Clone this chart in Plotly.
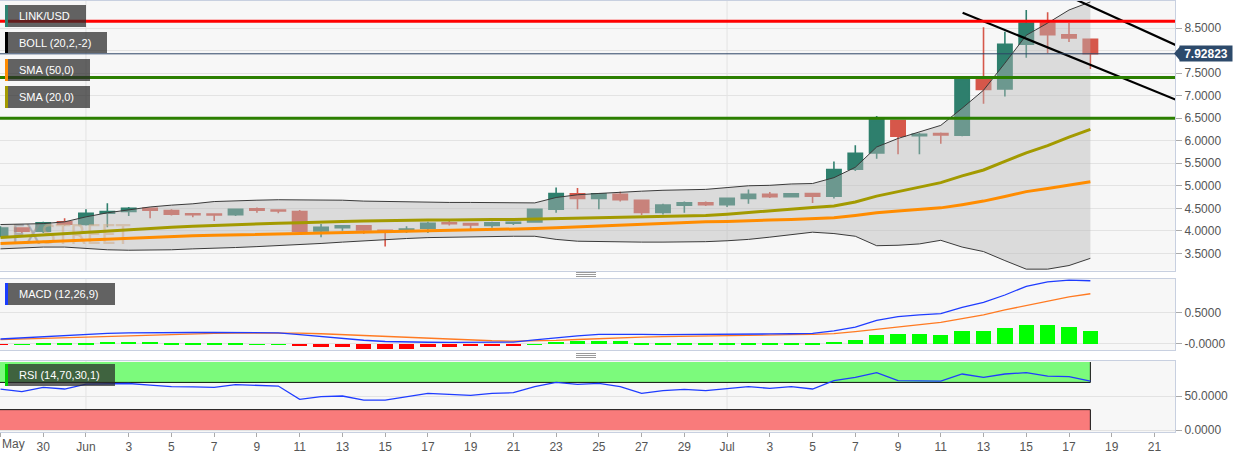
import pandas as pd
import plotly.graph_objects as go

# ---------------- data ----------------
start_date = "2019-05-28"
n_days = 52
dates = pd.date_range(start_date, periods=n_days, freq="D")

open_ = [3.90, 4.06, 3.99, 4.20, 4.14, 4.39, 4.43, 4.50, 4.45, 4.38, 4.37, 4.36, 4.49, 4.46, 4.43, 4.00,
         4.07, 4.11, 4.01, 3.99, 4.06, 4.18, 4.16, 4.12, 4.17, 4.20, 4.48, 4.82, 4.72, 4.81, 4.68, 4.41,
         4.57, 4.62, 4.58, 4.72, 4.81, 4.76, 4.83, 4.77, 5.37, 5.73, 6.45, 6.11, 6.16, 6.12, 7.38, 7.15,
         8.14, 8.61, 8.35, 8.25]
high = [4.10, 4.08, 4.20, 4.28, 4.48, 4.61, 4.53, 4.51, 4.48, 4.38, 4.38, 4.49, 4.52, 4.46, 4.46, 4.15,
        4.12, 4.11, 4.02, 4.10, 4.20, 4.23, 4.17, 4.20, 4.20, 4.49, 4.96, 4.95, 4.83, 4.87, 4.68, 4.60,
        4.65, 4.65, 4.72, 4.92, 4.86, 4.84, 4.84, 5.54, 5.90, 6.55, 6.46, 6.17, 6.18, 7.40, 8.52, 8.42,
        8.90, 8.85, 8.61, 8.26]
low = [3.86, 3.95, 3.95, 4.12, 4.12, 4.08, 4.33, 4.28, 4.34, 4.30, 4.22, 4.33, 4.40, 4.39, 3.92, 3.86,
       4.00, 3.93, 3.65, 3.95, 3.95, 4.12, 4.03, 4.07, 4.13, 4.19, 4.40, 4.48, 4.48, 4.65, 4.35, 4.36,
       4.40, 4.55, 4.53, 4.60, 4.73, 4.74, 4.62, 4.72, 5.33, 5.60, 5.70, 5.70, 5.93, 6.10, 6.82, 6.98,
       7.84, 7.94, 8.19, 7.59]
close = [4.06, 3.99, 4.18, 4.15, 4.39, 4.43, 4.50, 4.46, 4.37, 4.36, 4.35, 4.48, 4.46, 4.44, 3.99, 4.08,
         4.11, 4.02, 3.97, 4.04, 4.17, 4.16, 4.13, 4.18, 4.19, 4.48, 4.83, 4.72, 4.82, 4.69, 4.41, 4.57,
         4.62, 4.58, 4.72, 4.81, 4.76, 4.82, 4.77, 5.36, 5.72, 6.47, 6.10, 6.14, 6.13, 7.38, 7.14, 8.14,
         8.61, 8.35, 8.28, 7.92823]

boll_upper = [4.14, 4.15, 4.16, 4.20, 4.31, 4.40, 4.47, 4.53, 4.57, 4.60, 4.65, 4.67, 4.68, 4.69, 4.69, 4.69,
              4.68, 4.66, 4.65, 4.64, 4.63, 4.63, 4.63, 4.63, 4.62, 4.62, 4.74, 4.80, 4.83, 4.86, 4.88, 4.90,
              4.91, 4.92, 4.96, 5.00, 5.01, 5.04, 5.05, 5.18, 5.41, 5.86, 6.05, 6.19, 6.34, 6.72, 7.12, 7.72,
              8.34, 8.61, 8.90, 9.08]
boll_lower = [3.60, 3.62, 3.64, 3.64, 3.61, 3.58, 3.57, 3.57, 3.58, 3.60, 3.61, 3.63, 3.65, 3.67, 3.69, 3.72,
              3.75, 3.78, 3.81, 3.83, 3.85, 3.86, 3.87, 3.87, 3.88, 3.88, 3.81, 3.77, 3.76, 3.75, 3.75, 3.75,
              3.75, 3.76, 3.78, 3.81, 3.86, 3.92, 3.97, 3.94, 3.88, 3.67, 3.68, 3.71, 3.79, 3.64, 3.54, 3.34,
              3.15, 3.15, 3.23, 3.39]
sma20 = [3.85, 3.88, 3.91, 3.94, 3.97, 4.00, 4.03, 4.05, 4.08, 4.10, 4.12, 4.14, 4.15, 4.17, 4.18, 4.20,
         4.21, 4.22, 4.23, 4.23, 4.24, 4.24, 4.25, 4.25, 4.25, 4.26, 4.27, 4.28, 4.29, 4.30, 4.31, 4.32,
         4.33, 4.34, 4.37, 4.41, 4.44, 4.48, 4.52, 4.55, 4.64, 4.77, 4.87, 4.96, 5.07, 5.22, 5.35, 5.54,
         5.73, 5.89, 6.08, 6.25]
sma50 = [3.72, 3.74, 3.76, 3.78, 3.80, 3.82, 3.84, 3.86, 3.88, 3.89, 3.90, 3.91, 3.92, 3.93, 3.94, 3.95,
         3.96, 3.97, 3.97, 3.98, 3.99, 4.00, 4.02, 4.03, 4.04, 4.05, 4.07, 4.09, 4.11, 4.13, 4.15, 4.17,
         4.19, 4.20, 4.21, 4.23, 4.24, 4.25, 4.27, 4.29, 4.34, 4.40, 4.44, 4.47, 4.51, 4.58, 4.66, 4.76,
         4.87, 4.94, 5.02, 5.09]

macd = [0.08, 0.10, 0.12, 0.13, 0.15, 0.17, 0.18, 0.185, 0.185, 0.185, 0.185, 0.185, 0.185, 0.18, 0.15, 0.12,
        0.085, 0.06, 0.04, 0.03, 0.028, 0.025, 0.025, 0.025, 0.03, 0.065, 0.10, 0.13, 0.155, 0.16, 0.155, 0.15,
        0.15, 0.152, 0.155, 0.16, 0.162, 0.165, 0.17, 0.21, 0.27, 0.38, 0.44, 0.47, 0.49, 0.59, 0.67, 0.79,
        0.93, 1.00, 1.03, 1.02]
macd_signal = [0.07, 0.08, 0.095, 0.105, 0.12, 0.13, 0.14, 0.15, 0.16, 0.165, 0.17, 0.175, 0.178, 0.18, 0.175, 0.165,
               0.15, 0.135, 0.12, 0.10, 0.085, 0.07, 0.06, 0.052, 0.046, 0.048, 0.058, 0.072, 0.088, 0.10, 0.11, 0.118,
               0.125, 0.13, 0.135, 0.14, 0.145, 0.15, 0.155, 0.168, 0.20, 0.24, 0.28, 0.315, 0.35, 0.41, 0.47, 0.55,
               0.62, 0.70, 0.76, 0.81]
macd_hist = [-0.005, 0.005, 0.01, 0.015, 0.027, 0.038, 0.048, 0.043, 0.032, 0.022, 0.016, 0.011, 0.006, 0.003, -0.027, -0.038,
             -0.048, -0.065, -0.075, -0.065, -0.048, -0.038, -0.032, -0.027, -0.022, 0.004, 0.043, 0.054, 0.059, 0.054, 0.032, 0.022,
             0.016, 0.016, 0.016, 0.016, 0.016, 0.016, 0.022, 0.048, 0.08, 0.16, 0.17, 0.17, 0.145, 0.21, 0.215, 0.27,
             0.32, 0.31, 0.28, 0.215]

rsi = [60.0, 56.4, 62.8, 60.3, 67.6, 68.5, 68.4, 66.0, 63.7, 63.5, 62.8, 66.7, 65.5, 64.7, 45.1, 49.0,
       50.0, 44.1, 44.1, 49.0, 53.9, 52.5, 51.0, 53.9, 54.9, 63.7, 70.1, 67.2, 68.6, 63.7, 53.9, 57.8,
       59.8, 57.8, 61.3, 63.7, 61.3, 63.7, 60.3, 72.5, 77.4, 84.3, 72.5, 72.5, 72.0, 82.4, 77.4, 82.4,
       84.3, 79.4, 78.4, 72.0]
rsi_overbought = 70
rsi_oversold = 30

# horizontal support / resistance levels
level_prices = [8.65, 7.40, 6.50]
level_colors = ["#ff0000", "#2b7f00", "#2b7f00"]

# descending channel (trend lines)
trend_upper_x = ["2019-07-14", "2019-07-22"]
trend_upper_y = [9.85, 8.12]
trend_lower_x = ["2019-07-12 00:30", "2019-07-22"]
trend_lower_y = [8.84, 6.91]

price_ticks = [3.5, 4.0, 4.5, 5.0, 5.5, 6.0, 6.5, 7.0, 7.5, 8.0, 8.5]
price_tick_labels = ["3.5000", "4.0000", "4.5000", "5.0000", "5.5000", "6.0000", "6.5000",
                     "7.0000", "7.5000", "", "8.5000"]
macd_ticks = [0.0, 0.5]
macd_tick_labels = ["-0.0000", "0.5000"]
rsi_ticks = [0, 50]
rsi_tick_labels = ["0.0000", "50.0000"]

x_tick_dates = pd.date_range("2019-05-28", "2019-07-21", freq="2D")
x_tick_labels = ["May", "30", "Jun", "3", "5", "7", "9", "11", "13", "15", "17", "19", "21", "23", "25",
                 "27", "29", "Jul", "3", "5", "7", "9", "11", "13", "15", "17", "19", "21"]
month_starts = ["2019-06-01", "2019-07-01"]

legend_items = [("LINK/USD", "#2e8472"), ("BOLL (20,2,-2)", "#000000"),
                ("SMA (50,0)", "#ff8c00"), ("SMA (20,0)", "#a39a00")]

# ---------------- geometry helpers (pixels -> paper) ----------------
W, H = 1244, 457
M_L, M_R, M_T, M_B = 0, 69, 1, 25
PW = W - M_L - M_R
PH = H - M_T - M_B
PX_PER_DAY = 21.37


def xp(px):
    return (px - M_L) / PW


def yp(py):
    return (H - M_B - py) / PH


x_start = pd.Timestamp(start_date) - pd.Timedelta(days=0.5 / PX_PER_DAY)
x_end = x_start + pd.Timedelta(days=PW / PX_PER_DAY)

GREEN = "#2e7f6d"
RED = "#d6574a"
FONT = "Liberation Sans, Arial, sans-serif"
GRID = "#e3e3e3"
BORDER = "#c8d0e0"
TICKC = "#555555"

fig = go.Figure()

# watermark (below candles)
fig.add_trace(go.Scatter(
    x=[pd.Timestamp(start_date) + pd.Timedelta(days=3.3)], y=[3.86], mode="text",
    text=["<span style='color:rgba(110,110,110,0.6)'>FX</span>"
          "<span style='color:rgba(225,160,95,0.55)'>STREET</span>"],
    textfont=dict(family="DejaVu Sans Condensed, Liberation Sans Narrow, Liberation Sans", size=26),
    hoverinfo="skip", showlegend=False, cliponaxis=False, xaxis="x", yaxis="y"))

fig.add_trace(go.Candlestick(
    x=dates, open=open_, high=high, low=low, close=close,
    increasing=dict(line=dict(color=GREEN, width=1.6), fillcolor=GREEN),
    decreasing=dict(line=dict(color=RED, width=1.6), fillcolor=RED),
    whiskerwidth=0, hoverinfo="none", showlegend=False, xaxis="x", yaxis="y"))

fig.add_trace(go.Scatter(x=dates, y=boll_upper, mode="lines",
                         line=dict(color="#3a3a3a", width=1), hoverinfo="skip",
                         showlegend=False, xaxis="x", yaxis="y"))
fig.add_trace(go.Scatter(x=dates, y=boll_lower, mode="lines",
                         line=dict(color="#3a3a3a", width=1), fill="tonexty",
                         fillcolor="rgba(185,185,185,0.45)", hoverinfo="skip",
                         showlegend=False, xaxis="x", yaxis="y"))
fig.add_trace(go.Scatter(x=dates, y=sma20, mode="lines",
                         line=dict(color="#a39a00", width=3), hoverinfo="skip",
                         showlegend=False, xaxis="x", yaxis="y"))
fig.add_trace(go.Scatter(x=dates, y=sma50, mode="lines",
                         line=dict(color="#ff8c00", width=3), hoverinfo="skip",
                         showlegend=False, xaxis="x", yaxis="y"))
fig.add_trace(go.Scatter(x=trend_upper_x, y=trend_upper_y, mode="lines",
                         line=dict(color="#000000", width=2.2), hoverinfo="skip",
                         showlegend=False, xaxis="x", yaxis="y"))
fig.add_trace(go.Scatter(x=trend_lower_x, y=trend_lower_y, mode="lines",
                         line=dict(color="#000000", width=2.2), hoverinfo="skip",
                         showlegend=False, xaxis="x", yaxis="y"))

# MACD
fig.add_trace(go.Bar(x=dates, y=macd_hist,
                     marker=dict(color=["#00ff00" if v >= 0 else "#ff0000" for v in macd_hist],
                                 line=dict(width=0)),
                     width=0.72 * 86400000, hoverinfo="skip", showlegend=False,
                     xaxis="x2", yaxis="y2"))
fig.add_trace(go.Scatter(x=dates, y=macd_signal, mode="lines",
                         line=dict(color="#ff7a22", width=1.3), hoverinfo="skip",
                         showlegend=False, xaxis="x2", yaxis="y2"))
fig.add_trace(go.Scatter(x=dates, y=macd, mode="lines",
                         line=dict(color="#1f3cff", width=1.3), hoverinfo="skip",
                         showlegend=False, xaxis="x2", yaxis="y2"))

# RSI
fig.add_trace(go.Scatter(x=dates, y=rsi, mode="lines",
                         line=dict(color="#1f3cff", width=1.3), hoverinfo="skip",
                         showlegend=False, xaxis="x3", yaxis="y3"))

shapes = []
# month grid lines in each panel
for xr, yr in [("x", "y"), ("x2", "y2"), ("x3", "y3")]:
    for m in month_starts:
        shapes.append(dict(type="line", xref=xr, yref=yr + " domain", x0=m, x1=m, y0=0, y1=1,
                           line=dict(color=GRID, width=1), layer="below"))

# RSI zones
last_day = dates[-1]
shapes += [
    dict(type="rect", xref="x3", yref="y3", x0=x_start, x1=last_day, y0=rsi_overbought, y1=100,
         fillcolor="#7cfa7c", line=dict(width=0), layer="between"),
    dict(type="rect", xref="x3", yref="y3", x0=x_start, x1=last_day, y0=0, y1=rsi_oversold,
         fillcolor="#f97b7b", line=dict(width=0), layer="between"),
    dict(type="line", xref="x3", yref="y3", x0=x_start, x1=last_day, y0=rsi_overbought, y1=rsi_overbought,
         line=dict(color="#111111", width=1), layer="between"),
    dict(type="line", xref="x3", yref="y3", x0=x_start, x1=last_day, y0=rsi_oversold, y1=rsi_oversold,
         line=dict(color="#111111", width=1), layer="between"),
    dict(type="line", xref="x3", yref="y3", x0=last_day, x1=last_day, y0=rsi_overbought, y1=100,
         line=dict(color="#111111", width=1), layer="between"),
    dict(type="line", xref="x3", yref="y3", x0=last_day, x1=last_day, y0=0, y1=rsi_oversold,
         line=dict(color="#111111", width=1), layer="between"),
]

# horizontal levels + current price line
for lv, col in zip(level_prices, level_colors):
    shapes.append(dict(type="line", xref="x domain", yref="y", x0=0, x1=1, y0=lv, y1=lv,
                       line=dict(color=col, width=3), layer="above"))
shapes.append(dict(type="line", xref="x domain", yref="y", x0=0, x1=1, y0=close[-1], y1=close[-1],
                   line=dict(color="#2c4466", width=1), layer="above"))

# legend boxes
annotations = []
box_rows = [(5, 27, 86), (32, 53, 107), (59, 81, 90), (86, 108, 90)]
for (label, col), (t, b, r) in zip(legend_items, box_rows):
    shapes.append(dict(type="rect", xref="paper", yref="paper", x0=xp(5), x1=xp(r), y0=yp(b), y1=yp(t),
                       fillcolor="rgba(40,40,40,0.72)", line=dict(width=0), layer="above"))
    shapes.append(dict(type="rect", xref="paper", yref="paper", x0=xp(5), x1=xp(8), y0=yp(b), y1=yp(t),
                       fillcolor=col, line=dict(width=0), layer="above"))
    annotations.append(dict(text=label, xref="paper", yref="paper", x=xp(17), y=yp((t + b) / 2),
                            xanchor="left", yanchor="middle", showarrow=False,
                            font=dict(family=FONT, size=11, color="white")))

for label, col, t, b in [("MACD (12,26,9)", "#1a3cff", 283, 305), ("RSI (14,70,30,1)", "#00d000", 364, 386)]:
    shapes.append(dict(type="rect", xref="paper", yref="paper", x0=xp(5), x1=xp(115), y0=yp(b), y1=yp(t),
                       fillcolor="rgba(40,40,40,0.72)", line=dict(width=0), layer="above"))
    shapes.append(dict(type="rect", xref="paper", yref="paper", x0=xp(5), x1=xp(8), y0=yp(b), y1=yp(t),
                       fillcolor=col, line=dict(width=0), layer="above"))
    annotations.append(dict(text=label, xref="paper", yref="paper", x=xp(17), y=yp((t + b) / 2),
                            xanchor="left", yanchor="middle", showarrow=False,
                            font=dict(family=FONT, size=11, color="white")))

# resize handles (crisp 1px lines)
for base in (272.5, 353.5):
    for k in range(3):
        yy = yp(base + 2 * k)
        shapes.append(dict(type="line", xref="paper", yref="paper", x0=xp(576), x1=xp(596), y0=yy, y1=yy,
                           line=dict(color="#9a9a9a", width=1), layer="above"))

# current price tag
price_py = 53.5
shapes.append(dict(type="path", xref="paper", yref="paper",
                   path=f"M {xp(1174)} {yp(price_py)} L {xp(1180)} {yp(price_py - 7)} "
                        f"L {xp(1180)} {yp(price_py + 7)} Z",
                   fillcolor="#2d4a6b", line=dict(width=0), layer="above"))
annotations.append(dict(text=f"<b>{close[-1]:.5f}</b>", xref="paper", yref="paper",
                        x=xp(1179), y=yp(price_py), xanchor="left", yanchor="middle", showarrow=False,
                        bgcolor="#2d4a6b", borderpad=1, width=50, height=13,
                        font=dict(family=FONT, size=12, color="white")))

# "May" first tick label (left aligned at the edge)
annotations.append(dict(text=x_tick_labels[0], xref="paper", yref="paper", x=0, y=yp(444),
                        xanchor="left", yanchor="middle", showarrow=False,
                        font=dict(family=FONT, size=12, color=TICKC)))

common_x = dict(type="date", range=[x_start, x_end], showgrid=False, zeroline=False,
                showline=True, mirror=True, linecolor=BORDER, linewidth=1)
common_y = dict(side="right", showgrid=True, gridcolor=GRID, gridwidth=1, zeroline=False,
                showline=True, mirror=True, linecolor=BORDER, linewidth=1,
                ticks="outside", ticklen=6, tickcolor="#aaaaaa",
                tickfont=dict(family=FONT, size=12, color=TICKC), tickmode="array")

fig.update_layout(
    width=W, height=H,
    margin=dict(l=M_L, r=M_R, t=M_T, b=M_B),
    paper_bgcolor="white", plot_bgcolor="#f7f7f7",
    font=dict(family=FONT, size=12, color=TICKC),
    showlegend=False, boxgap=0.33, boxgroupgap=0, bargap=0,
    hovermode=False,
    xaxis=dict(**common_x, anchor="y", showticklabels=False, rangeslider=dict(visible=False)),
    xaxis2=dict(**common_x, anchor="y2", matches="x", showticklabels=False),
    xaxis3=dict(**common_x, anchor="y3", matches="x", tickmode="array",
                tickvals=list(x_tick_dates), ticktext=[""] + x_tick_labels[1:],
                ticks="outside", ticklen=4, tickcolor="#aaaaaa",
                tickfont=dict(family=FONT, size=12, color=TICKC)),
    yaxis=dict(**common_y, anchor="x", domain=[yp(270.5), yp(1)], range=[3.12, 9.10],
               tickvals=price_ticks, ticktext=price_tick_labels),
    yaxis2=dict(**common_y, anchor="x2", domain=[yp(350), yp(278.5)], range=[-0.097, 1.056],
                tickvals=macd_ticks, ticktext=macd_tick_labels),
    yaxis3=dict(**common_y, anchor="x3", domain=[yp(432), yp(361)], range=[-2.9, 101.5],
                tickvals=rsi_ticks, ticktext=rsi_tick_labels),
    shapes=shapes, annotations=annotations,
)

fig.write_html("out.html", config=dict(displayModeBar=False),
               post_script="document.body.style.margin='0px';document.body.style.overflow='hidden';")
